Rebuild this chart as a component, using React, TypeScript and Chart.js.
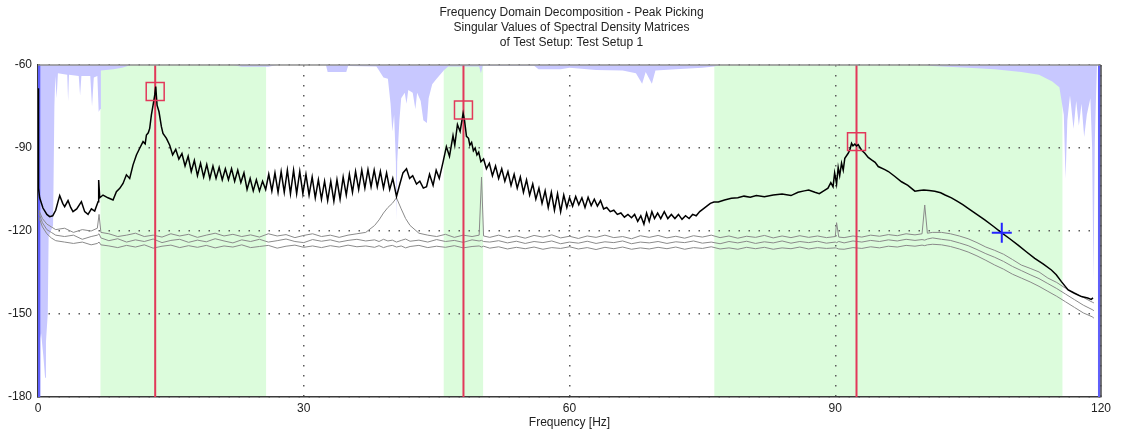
import React, { useEffect, useRef } from 'react';
import { Chart, registerables } from 'chart.js';

Chart.register(...registerables);

const FONT = '"Liberation Sans", Arial, sans-serif';

const TITLE_LINES = [
  'Frequency Domain Decomposition - Peak Picking',
  'Singular Values of Spectral Density Matrices',
  'of Test Setup: Test Setup 1',
];
const X_TITLE = 'Frequency [Hz]';
const X_TICKS = [0, 30, 60, 90, 120];
const Y_TICKS = [-180, -150, -120, -90, -60];
const X_MIN = 0;
const X_MAX = 120;
const Y_MIN = -180;
const Y_MAX = -60;

// picked frequency bands (green)
const BAND_START = [7.05, 45.8, 76.35];
const BAND_END = [25.75, 50.25, 115.65];

// picked peaks
const PEAK_FREQ = [13.23, 48.03, 92.4];
const PEAK_DB = [-69.6, -76.3, -87.7];

// cursor
const CURSOR_FREQ = [108.8];
const CURSOR_DB = [-120.6];

// blue edge markers
const EDGE_FREQ = [0.12, 119.8];

// first singular value
const SV1_FREQ = [
  0, 0.05, 0.19, 0.56, 1.0, 1.32, 1.66, 2.0, 2.26, 2.45, 2.79, 3.01, 3.39, 3.69, 3.95, 4.37, 4.9, 5.27, 5.65, 6.03, 6.4, 6.78, 6.85, 6.97, 7.34,
  7.9, 8.47, 8.85, 9.23, 9.6, 9.98, 10.35, 10.73, 11.11, 11.48, 11.86, 12.1, 12.24, 12.45, 12.61, 12.8, 12.99, 13.18, 13.29, 13.44, 13.66, 13.93, 14.11, 14.5,
  14.87, 15.2, 15.55, 15.9, 16.25, 16.6, 16.95, 17.3, 17.65, 18.0, 18.35, 18.7, 19.05, 19.4, 19.75, 20.1, 20.45, 20.8, 21.15, 21.5, 21.85, 22.2, 22.55, 22.9, 23.25, 23.6, 23.95, 24.3, 24.65, 25.0, 25.35, 25.7,
  26.05, 26.4, 26.75, 27.1, 27.45, 27.8, 28.15, 28.5, 28.85, 29.2,
  29.55, 29.9, 30.25, 30.6, 30.95, 31.3, 31.65, 32.0, 32.35, 32.7,
  33.05, 33.4, 33.75, 34.1, 34.45, 34.8, 35.15, 35.5, 35.85, 36.2,
  36.55, 36.9, 37.25, 37.6, 37.95, 38.3, 38.65, 39.0, 39.35, 39.7,
  40.05, 40.47, 40.85, 41.2, 41.6, 41.95, 42.3, 42.73, 43.1, 43.5,
  43.86, 44.2, 44.6, 44.95, 45.3, 45.73, 46.1, 46.45, 46.85, 47.05,
  47.35, 47.65, 47.99, 48.15, 48.37,
  48.6, 48.75, 48.95, 49.15, 49.35, 49.55, 49.75, 50.0, 50.3, 50.62,
  50.95, 51.3, 51.65, 52.0, 52.35, 52.7, 53.05, 53.4, 53.75, 54.1,
  54.45, 54.8, 55.15, 55.5, 55.85, 56.2, 56.55, 56.9, 57.25, 57.6,
  57.95, 58.3, 58.65, 59.0, 59.35, 59.7,
  60.0, 60.35, 60.7, 61.05, 61.4, 61.75, 62.1, 62.45, 62.8, 63.15,
  63.5, 63.85, 64.2, 64.6, 65.0, 65.4, 65.8, 66.2, 66.6, 67.0,
  67.35, 67.7, 68.05, 68.4, 68.7, 69.0, 69.3, 69.6, 69.95, 70.3,
  70.7, 71.1, 71.5, 71.9, 72.3, 72.7, 73.1, 73.5, 73.9, 74.3,
  74.7, 75.1, 75.5, 75.9, 76.3,
  76.8, 77.5, 78.27, 79.0, 79.7, 80.4, 81.1, 82.0, 83.0, 84.0,
  85.0, 85.8, 86.5, 87.0, 87.7, 88.2, 88.7, 89.18, 89.5, 89.75,
  89.93,
  90.15, 90.33, 90.5, 90.71, 90.9, 91.08, 91.46, 91.65, 91.84, 92.0,
  92.21, 92.4, 92.59, 92.96, 93.34, 93.72, 94.1, 94.5, 94.85, 95.6,
  96.0, 96.7, 97.48, 98.2, 98.99, 99.5, 100.0, 100.6, 101.24, 101.9,
  102.4, 103.12, 103.8, 104.4, 105.0, 105.9, 106.88, 107.8, 108.76, 109.7,
  110.64, 111.6, 112.52, 113.5, 114.4, 114.95, 115.53, 116.29, 117.0, 117.79,
  118.5, 118.9, 119.1,
];
const SV1_DB = [
  -68.4, -104.5, -108, -111.7, -114, -114.8, -114.5, -112.5, -109.4, -107.2, -110, -111.2, -109, -111.5, -113, -112, -109.4, -113, -114, -112, -112.8, -109.4, -101.6, -108, -107,
  -108, -108.8, -105.8, -104.6, -102.8, -99.7, -101, -96.1, -92.5, -90.1, -87.7, -88.5, -85.3, -84.5, -82.9, -78, -74.5, -70.8, -67.8, -74.5, -76.9, -82.3, -84.7, -86.5,
  -89, -92.5, -90.5, -94, -92, -96.5, -93, -98.5, -94.5, -100, -95.5, -100.5, -96, -101, -96.5, -101, -97, -101.5, -97.5, -101.5, -97.5, -102, -98, -102.5, -99, -105, -101, -105.5, -101.5, -105.5, -102, -105,
  -99.5, -105.5, -99, -106, -98.5, -106, -98, -106.5, -98, -106.5,
  -98.5, -106.5, -99.5, -107, -100.5, -108, -101.5, -108.5, -102, -109,
  -102, -109.2, -101.5, -108.5, -100.5, -107, -99.5, -106, -98.5, -105,
  -98, -104.5, -97.8, -104, -98, -104, -98.5, -104.5, -99, -105,
  -101, -107.5, -103, -99, -97.5, -101, -100, -103, -102, -104.5,
  -104, -99.5, -103.5, -98, -101, -95, -89.5, -93, -85.5, -89,
  -81.5, -84, -77.5, -80, -85.8,
  -86.5, -89, -88, -91, -90, -92.5, -91.5, -95, -94, -97.5,
  -95.5, -100, -96.5, -101, -97.5, -102, -98.5, -103.5, -99.5, -104.5,
  -100.5, -106, -101.5, -107, -103, -108.5, -104.5, -110, -105.5, -111.5,
  -106, -112.5, -106.5, -113, -107, -111.5,
  -108, -111, -107.5, -110.5, -108, -111.5, -107.8, -110.8, -108.5, -111,
  -109, -112, -111.5, -113, -112.5, -114, -113.5, -115, -114, -115.2,
  -114, -116.5, -114.5, -117.5, -113.5, -116.5, -113, -115.5, -113.5, -115.5,
  -113, -115.5, -114, -115.5, -114, -115.8, -114.5, -115.5, -114, -114.5,
  -113, -112, -111, -110, -109.5,
  -109.5, -108.8, -108.2, -108, -107.4, -107.8, -107.2, -107.6, -107, -106.6,
  -107.2, -106, -105.5, -105.2, -106, -106.5, -105.5, -104.5, -102.5, -104,
  -99,
  -103, -97, -100, -95.5, -98, -93.7, -91.9, -90.7, -88.3, -89.2,
  -88.6, -89.3, -88.8, -90.7, -91.9, -93.4, -94.3, -95.2, -96.7, -97.8,
  -98.5, -100.2, -102.2, -103.5, -105.6, -105.4, -105.2, -105.4, -105.6, -106.2,
  -107, -108, -109.3, -110.5, -111.8, -113.8, -116, -118.2, -120.6, -122.8,
  -125.1, -127.6, -129.9, -132, -134.1, -135.8, -138.3, -141.3, -142.5, -143.7,
  -144.2, -144.7, -144.2,
];

// higher singular values (shared frequency grid)
const GRAY_FREQ = [
  0.1, 0.5, 1, 1.5, 2, 3, 4, 5, 6, 6.7, 6.89, 7.1,
  8, 9, 10, 11, 12, 13, 14, 15, 16, 17, 18, 19, 20, 21, 22, 23, 24, 25, 26, 27, 28, 29, 30, 31, 32, 33, 34, 35, 36, 37,
  38, 38.5, 39, 39.5, 40, 40.47, 41, 41.5, 42,
  43, 44, 45, 46, 47, 48, 49, 49.8, 50.07, 50.3,
  51, 52, 53, 54, 55, 56, 57, 58, 59, 60,
  61, 62, 63, 64, 65, 66, 67, 68, 69, 70,
  71, 72, 73, 74, 75, 76, 77, 78, 79, 80,
  81, 82, 83, 84, 85, 86, 87, 88, 89, 90,
  90.15, 90.4,
  91, 92, 93, 94, 95, 96, 97, 98, 99, 99.8, 100.1, 100.4,
  101, 102, 103, 104, 105, 106, 107, 108, 109, 110, 111, 112, 113, 114, 115, 116, 117, 118, 119, 119.2,
];
const SV2_DB = [
  -112.5, -115.5, -117.5, -118.5, -119.5, -119, -120.5, -119.5, -120, -119, -114, -120.5,
  -121, -122, -121.5, -120.8, -122, -121.5, -122.2, -121, -121.8, -121.2, -122.3, -121.5, -120.8, -121.8, -121.2, -122, -121.4, -122.2, -121, -121.8, -121.3, -122.4, -121.6, -121, -122, -121.5, -122.3, -121.5, -121, -120.5,
  -118, -116, -113.5, -111.5, -110, -108, -112, -115.5, -118,
  -120.8, -121.5, -122, -121.2, -122.3, -121.5, -122, -121.5, -100.5, -121.8,
  -122.3, -121.5, -122.4, -121.8, -122.6, -121.6, -122.2, -121.4, -122.5, -121.9,
  -122.7, -121.8, -122.3, -121.5, -122.4, -122, -122.8, -121.7, -122.3, -121.6,
  -122.5, -121.9, -122.6, -121.7, -122.2, -121.5, -122.4, -121.8, -122.6, -121.9,
  -122.3, -121.6, -122.5, -121.8, -122.4, -121.7, -122.3, -121.8, -122.4, -122,
  -117, -122.2,
  -122.4, -121.8, -122.2, -121.5, -121.9, -121.3, -121.7, -121, -121.4, -121, -110.6, -120.8,
  -120.5, -120.5, -121, -121.8, -122.8, -124.2, -125.8, -127, -128.4, -130.3, -132.3, -133.5, -134.8, -137, -138.6, -140.7, -142.3, -144, -145.7, -146,
];
const SV3_DB = [
  -113.5, -117, -119.5, -120.5, -121.5, -122, -121.5, -123, -122, -121.5, -121, -122.5,
  -123.5, -122.8, -124, -123.2, -123.8, -122.9, -124.2, -123.4, -123, -124.1, -123.3, -123.9, -122.8, -123.6, -124.3, -123.2, -123.8, -123, -124, -123.5, -122.9, -123.8, -124.2, -123.1, -123.7, -123.2, -124, -123.4, -123, -123.6,
  -123.2, -123.8, -123, -123.6, -123.3, -124, -123.4, -122.9, -123.7,
  -123.3, -124, -123.1, -123.8, -123.4, -124.1, -123.2, -123.6, -123.4, -123.8,
  -124, -123.5, -124.3, -123.7, -124.5, -123.8, -124.2, -123.6, -124.6, -124,
  -124.4, -123.7, -124.5, -123.9, -124.2, -123.6, -124.6, -124, -124.3, -123.8,
  -124.5, -123.9, -124.2, -123.6, -124.4, -124, -124.6, -123.8, -124.3, -123.7,
  -124.5, -123.9, -124.3, -123.6, -124.4, -123.8, -124.2, -123.7, -124.4, -124,
  -124.2, -123.8,
  -124.3, -123.6, -124, -123.4, -123.8, -123.2, -123.6, -123, -123.4, -123.1, -123.3, -122.9,
  -122.5, -123, -123.4, -124.3, -125.3, -126.7, -128.2, -129.5, -131, -132.8, -134.3, -135.8, -137.2, -139, -140.8, -142.8, -144.8, -146.8, -148.4, -148.8,
];
const SV4_DB = [
  -115, -118.5, -121, -122.5, -123.5, -124, -124.5, -124, -125, -124.5, -124, -125,
  -125.4, -126, -125.2, -125.8, -125, -126.2, -125.5, -125.1, -126, -125.3, -125.9, -125.2, -126.1, -125.4, -125.8, -125, -126, -125.6, -125.2, -126.2, -125.5, -125.1, -125.9, -125.4, -126, -125.3, -125.8, -125.1, -125.7, -125.4,
  -125.9, -125.3, -126, -125.5, -125.2, -125.8, -125.4, -126.1, -125.6,
  -125.2, -126, -125.5, -125.9, -125.3, -126.1, -125.6, -125.4, -125.8, -125.5,
  -126.2, -125.7, -126.5, -125.9, -126.4, -125.8, -126.6, -126, -126.3, -125.7,
  -126.5, -126, -126.7, -125.9, -126.4, -125.8, -126.6, -126.1, -126.5, -125.9,
  -126.4, -125.8, -126.6, -126, -126.3, -125.7, -126.5, -126.1, -126.6, -125.9,
  -126.4, -125.9, -126.6, -126.1, -126.4, -125.8, -126.5, -126, -126.3, -126.1,
  -126.2, -126.5,
  -126.6, -126, -126.3, -125.7, -126.1, -125.5, -125.8, -125.2, -125.5, -125.1, -125.3, -125,
  -124.8, -125, -125.6, -126.5, -127.6, -129, -130.6, -132.3, -133.8, -135.6, -137, -138.4, -140, -141.8, -143.6, -145.6, -147.6, -149.6, -151, -151.5,
];

// coherence indicator hanging from the top (lavender)
const LAV_FREQ = [
  0, 0.12, 0.15, 0.35, 0.6, 0.8, 0.9, 1.1, 1.2, 1.7,
  1.85, 1.95, 2.1, 2.25, 3.3, 3.4, 3.5, 4.6, 4.75, 4.9,
  5.9, 6.1, 6.3, 6.7, 6.85, 7.0, 7.1, 8.5, 9.5, 10.5,
  22, 23, 26, 27, 32.5, 32.7, 34.8, 35, 38.2, 38.5,
  39, 39.5, 39.8, 40.0, 40.2, 40.4, 40.47, 40.55, 40.8, 41.0,
  41.4, 41.6, 41.8, 42.3, 42.6, 42.8, 43.2, 43.5, 43.9, 44.1,
  44.5, 45, 45.8, 46.3, 49.8, 50.0, 50.2, 56, 56.5, 59,
  60, 63, 66, 67.5, 68.2, 68.6, 69.3, 69.7, 72, 75,
  76.3, 77, 100, 101, 105, 108, 111, 113, 114.5, 115.3,
  115.8, 116.0, 116.2, 116.5, 116.9, 117.2, 117.5, 117.8, 118.1, 118.4,
  118.8, 119.0, 119.15, 119.3, 119.45, 119.55, 120,
];
const LAV_DB = [
  -180, -180, -160, -157, -165, -173, -160, -150, -122, -118,
  -75, -64, -72, -63, -63.5, -73, -63.5, -64, -71, -64,
  -64, -75, -64.5, -64, -77, -76, -62, -61.5, -61, -60,
  -60, -60.6, -60.6, -60, -60, -62.5, -62.5, -60.4, -60.5, -62,
  -64.5, -65, -74, -84, -78, -95, -116, -95, -80, -72,
  -70, -74, -69, -70, -76, -70, -73, -80, -81, -72,
  -67, -65, -62, -60.5, -60.5, -63, -60.3, -60.3, -61.5, -61.5,
  -61, -61.8, -62, -63, -66.8, -62.5, -66.8, -62, -61.5, -61,
  -60.5, -60, -60, -60.4, -61, -61.5, -62.5, -63.5, -66, -68,
  -78, -101, -80, -71, -83, -73, -82, -74, -86, -78,
  -72, -90, -138, -88, -70, -60, -60,
];

const RED = '#e2385a';
const BLUE = '#2424ff';
const EDGE_BLUE = 'rgb(96,96,250)';
const GRAY = 'rgb(138,138,138)';
const LAVENDER = 'rgb(200,200,255)';
const GREEN = 'rgb(220,252,220)';
const TEXT = '#222';

const pts = (xs: number[], ys: number[]) => xs.map((x, i) => ({ x, y: ys[i] }));
const vline = (f: number) => [{ x: f, y: Y_MAX }, { x: f, y: Y_MIN }];

export default function App() {
  const ref = useRef<HTMLCanvasElement | null>(null);

  useEffect(() => {
    const canvas = ref.current;
    if (!canvas) return;

    const bandsPlugin = {
      id: 'bands',
      beforeDraw(chart: any) {
        const { ctx, chartArea: a, scales } = chart;
        const x = scales.x;
        ctx.save();
        ctx.fillStyle = GREEN;
        BAND_START.forEach((s, i) => {
          const x1 = x.getPixelForValue(s);
          const x2 = x.getPixelForValue(BAND_END[i]);
          ctx.fillRect(x1, a.top, x2 - x1, a.bottom - a.top);
        });
        ctx.restore();
      },
    };

    const framePlugin = {
      id: 'frameTitle',
      afterDraw(chart: any) {
        const { ctx, chartArea: a } = chart;
        ctx.save();
        ctx.lineWidth = 1.5;
        ctx.strokeStyle = '#8e8e8e';
        ctx.beginPath();
        ctx.moveTo(a.left, a.top);
        ctx.lineTo(a.right, a.top);
        ctx.stroke();
        ctx.strokeStyle = '#4a4a4a';
        ctx.beginPath();
        ctx.moveTo(a.right, a.top);
        ctx.lineTo(a.right, a.bottom);
        ctx.stroke();
        ctx.fillStyle = TEXT;
        ctx.font = `12px ${FONT}`;
        ctx.textAlign = 'center';
        ctx.textBaseline = 'middle';
        const cx = (a.left + a.right) / 2 + 2;
        TITLE_LINES.forEach((t, i) => ctx.fillText(t, cx, 13 + i * 15));
        ctx.restore();
      },
    };

    const datasets: any[] = [
      {
        label: 'cursor',
        data: pts(CURSOR_FREQ, CURSOR_DB),
        showLine: false,
        pointStyle: 'cross',
        pointRadius: 10,
        pointBorderColor: BLUE,
        pointBorderWidth: 2,
      },
      {
        label: 'peaks',
        data: pts(PEAK_FREQ, PEAK_DB),
        showLine: false,
        pointStyle: 'rect',
        pointRadius: 12.7,
        pointBorderColor: RED,
        pointBackgroundColor: 'rgba(0,0,0,0)',
        pointBorderWidth: 1.5,
      },
      {
        label: 'SV1',
        data: pts(SV1_FREQ, SV1_DB),
        borderColor: '#000',
        borderWidth: 1.5,
        pointRadius: 0,
        tension: 0,
      },
      ...PEAK_FREQ.map((f, i) => ({
        label: 'peak line ' + (i + 1),
        data: vline(f),
        borderColor: RED,
        borderWidth: 2,
        pointRadius: 0,
      })),
      ...[SV2_DB, SV3_DB, SV4_DB].map((d, i) => ({
        label: 'SV' + (i + 2),
        data: pts(GRAY_FREQ, d),
        borderColor: GRAY,
        borderWidth: 1,
        pointRadius: 0,
        tension: 0,
      })),
      ...EDGE_FREQ.map((f, i) => ({
        label: 'edge ' + (i + 1),
        data: vline(f),
        borderColor: EDGE_BLUE,
        borderWidth: 2.5,
        pointRadius: 0,
      })),
      {
        label: 'coherence',
        data: pts(LAV_FREQ, LAV_DB),
        borderColor: 'rgba(0,0,0,0)',
        borderWidth: 0,
        backgroundColor: LAVENDER,
        fill: 'end',
        pointRadius: 0,
        tension: 0,
      },
    ];

    const chart = new Chart(canvas, {
      type: 'line',
      data: { datasets },
      options: {
        responsive: false,
        animation: false,
        devicePixelRatio: 1,
        events: [],
        layout: { padding: { top: 65, right: 23, left: 0, bottom: 0 } },
        plugins: {
          legend: { display: false },
          tooltip: { enabled: false },
          title: { display: false },
        },
        scales: {
          x: {
            type: 'linear',
            min: X_MIN,
            max: X_MAX,
            afterBuildTicks: (s: any) => {
              s.ticks = X_TICKS.map((v) => ({ value: v }));
            },
            afterFit: (s: any) => {
              s.height = 40;
            },
            grid: { drawTicks: false, color: '#5a5a5a', lineWidth: 1.5 },
            border: { display: true, color: '#3a3a3a', width: 1.5, dash: [1.5, 8.5] },
            ticks: { padding: 4, color: TEXT, font: { family: FONT, size: 12 }, maxRotation: 0, autoSkip: false },
            title: {
              display: true,
              text: X_TITLE,
              color: TEXT,
              font: { family: FONT, size: 12 },
              padding: { top: 0, bottom: 7 },
            },
          },
          y: {
            type: 'linear',
            min: Y_MIN,
            max: Y_MAX,
            afterBuildTicks: (s: any) => {
              s.ticks = Y_TICKS.map((v) => ({ value: v }));
            },
            afterFit: (s: any) => {
              s.width = 38;
            },
            grid: { drawTicks: false, color: '#5a5a5a', lineWidth: 1.5 },
            border: { display: true, color: '#3a3a3a', width: 1.5, dash: [1.5, 8.5] },
            ticks: { padding: 6, color: TEXT, font: { family: FONT, size: 12 }, autoSkip: false },
          },
        },
      },
      plugins: [bandsPlugin, framePlugin],
    } as any);

    return () => chart.destroy();
  }, []);

  return (
    <div style={{ position: 'fixed', left: 0, top: 0, width: 1124, height: 437, background: '#fff' }}>
      <canvas ref={ref} width={1124} height={437} style={{ display: 'block' }} />
    </div>
  );
}
